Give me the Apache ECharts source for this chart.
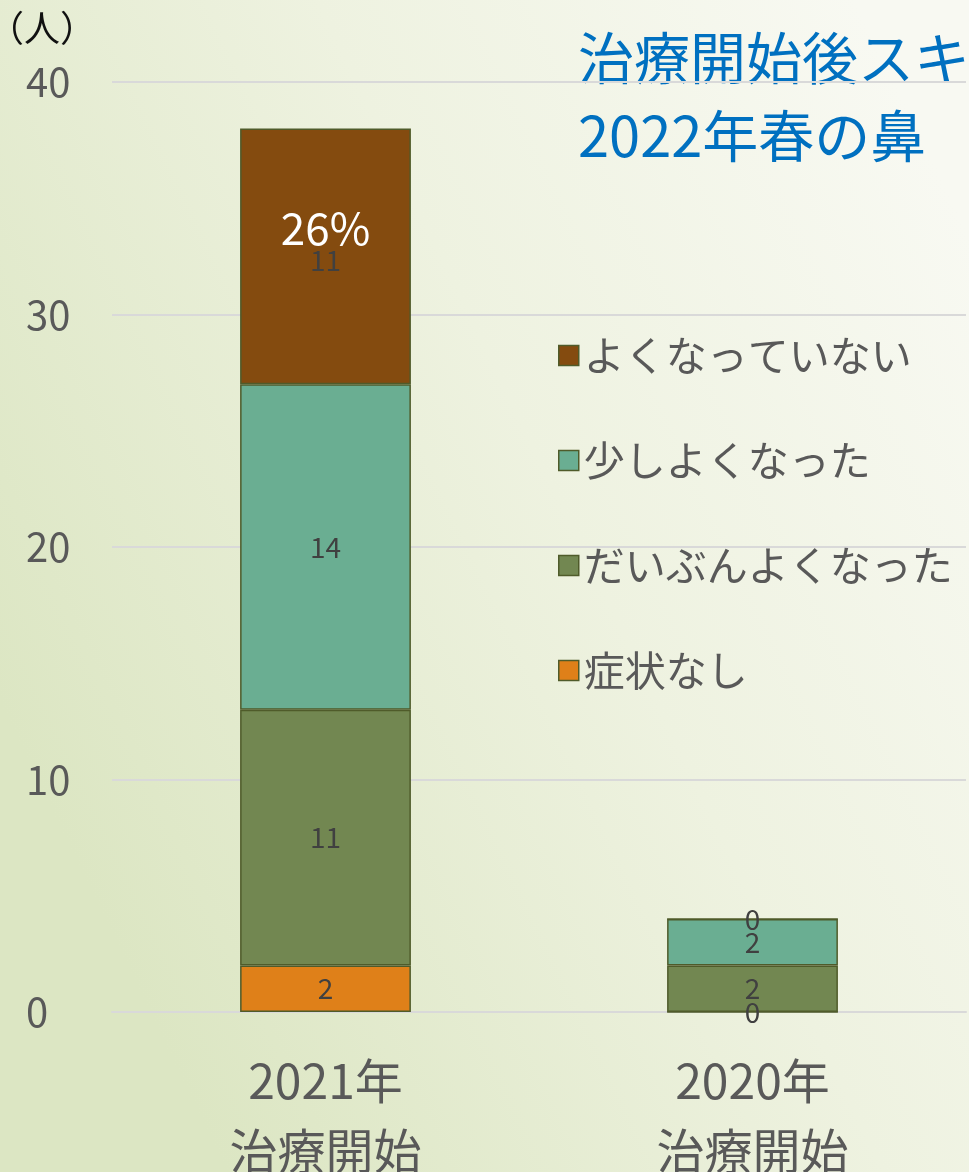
<!DOCTYPE html>
<html>
<head>
<meta charset="utf-8">
<script src="https://cdn.jsdelivr.net/npm/echarts@6/dist/echarts.min.js"></script>
<style>
  html, body { margin: 0; padding: 0; }
  #chart { width: 969px; height: 1172px; }
</style>
</head>
<body>
<div id="chart"></div>
<script>
const categories = ['2021年\n治療開始', '2020年\n治療開始'];
const seriesNames = ['症状なし', 'だいぶんよくなった', '少しよくなった', 'よくなっていない'];
const noSymptom = [2, 0];
const muchBetter = [11, 2];
const littleBetter = [14, 2];
const notBetter = [11, 0];
const yTicks = [0, 10, 20, 30, 40];
const titleLines = ['治療開始後スキ', '2022年春の鼻'];
const percentNote = '26%';

const chart = echarts.init(document.getElementById('chart'));

const cjk = '"Noto Sans CJK JP", "Noto Sans", sans-serif';
const colors = ['#DF8019', '#728751', '#6AAE92', '#844B0F'];
const borderCol = '#4F5B2A';

const valueLists = [noSymptom, muchBetter, littleBetter, notBetter];

const series = seriesNames.map((name, i) => ({
    name: name,
    type: 'bar',
    stack: 'total',
    barWidth: '40%',
    itemStyle: { color: colors[i], borderColor: borderCol, borderWidth: 1.5 },
    label: {
        show: true,
        position: 'inside',
        color: '#404040',
        fontFamily: cjk,
        fontSize: 28
    },
    data: valueLists[i].map((v, j) => {
        if (i === 3 && j === 0) {
            return {
                value: v,
                label: {
                    formatter: '{p|' + percentNote + '}\n{v|{c}}',
                    offset: [0, -14],
                    rich: {
                        p: { color: '#ffffff', fontSize: 44, fontFamily: cjk, lineHeight: 36 },
                        v: { color: '#404040', fontSize: 28, fontFamily: cjk, lineHeight: 28 }
                    }
                }
            };
        }
        return v;
    })
}));

chart.setOption({
    backgroundColor: {
        type: 'linear', x: 0, y: 0.6, x2: 1, y2: 0.2,
        colorStops: [
            { offset: 0, color: '#DCE6C3' },
            { offset: 0.55, color: '#EEF2E0' },
            { offset: 1, color: '#F8F9F2' }
        ]
    },
    animation: false,
    graphic: [
        {
            type: 'text', left: 578, top: 30,
            style: { text: titleLines[0], fill: '#0070C0', font: '56px ' + cjk }
        },
        {
            type: 'text', left: 578, top: 108,
            style: { text: titleLines[1], fill: '#0070C0', font: '56px ' + cjk }
        }
    ],
    legend: {
        orient: 'vertical',
        left: 553,
        top: 330,
        itemWidth: 20,
        itemHeight: 20,
        itemGap: 64,
        icon: 'rect',
        itemStyle: { borderColor: borderCol, borderWidth: 1.5 },
        textStyle: { color: '#595959', fontSize: 41, fontFamily: cjk },
        data: seriesNames.slice().reverse()
    },
    grid: { left: 112, right: 3, top: 82, bottom: 160, outerBoundsMode: 'none' },
    xAxis: {
        type: 'category',
        data: categories,
        axisLine: { lineStyle: { color: '#D9D9D9', width: 2 } },
        axisTick: { show: false },
        axisLabel: {
            color: '#595959',
            fontFamily: cjk,
            fontSize: 48,
            lineHeight: 70,
            margin: 34
        }
    },
    yAxis: {
        type: 'value',
        min: yTicks[0],
        max: yTicks[yTicks.length - 1],
        interval: 10,
        name: '（人）',
        nameLocation: 'end',
        nameGap: 36,
        nameTextStyle: { color: '#111', fontSize: 36, fontFamily: cjk, align: 'left', padding: [0, 0, 0, -124] },
        axisLine: { show: false },
        axisTick: { show: false },
        axisLabel: {
            color: '#595959',
            fontFamily: cjk,
            fontSize: 40,
            align: 'left',
            margin: 86
        },
        splitLine: { lineStyle: { color: '#D9D9D9', width: 2 } }
    },
    series: series
});
</script>
</body>
</html>
